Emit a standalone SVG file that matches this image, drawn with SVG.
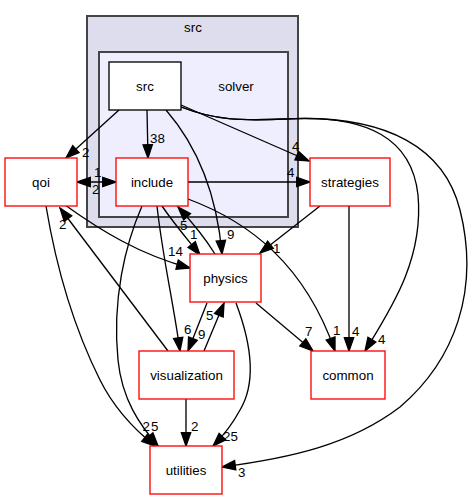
<svg xmlns="http://www.w3.org/2000/svg" width="474" height="500" viewBox="0 0 474 500">
<style>
text{font-family:"Liberation Sans",Arial,Helvetica,sans-serif;font-size:13.33px;fill:#000}
.nl{text-anchor:middle}
.cl{text-anchor:middle}
.box{fill:#fff;stroke:#ff0000;stroke-width:1.33}
.sbox{fill:#fff;stroke:#000;stroke-width:1.33}
.e{fill:none;stroke:#000;stroke-width:1.33;marker-end:url(#ah)}
</style>
<defs>
<marker id="ah" markerUnits="userSpaceOnUse" markerWidth="16" markerHeight="12" refX="13.3" refY="4.67" orient="auto-start-reverse" overflow="visible">
<path d="M0,0 L13.3,4.67 L0,9.33 z" fill="#000" stroke="#000" stroke-width="1.33"/>
</marker>
</defs>
<rect width="474" height="500" fill="#fff"/>
<g id="cluster_src">
<rect x="87" y="16" width="211" height="211" fill="#ddddee" stroke="#444" stroke-width="2"/>
<text class="cl" x="193" y="31.5">src</text>
</g>
<g id="cluster_solver">
<rect x="99" y="52" width="189" height="165" fill="#eeeeff" stroke="#444" stroke-width="2"/>
<text class="cl" x="236" y="90.5">solver</text>
</g>
<g id="connectors">
<path class="e" d="M119,110 L66,158"/>
<path class="e" d="M147,110 L148,158"/>
<path class="e" d="M166,110 C192,140 216,185 222,254"/>
<path class="e" d="M181,105 L309,161"/>
<path class="e" d="M181,107 C215,120 240,121 285,119 C370,114 412,140 418,195 C424,260 390,310 365,351"/>
<path class="e" d="M181,107 C215,120 240,121 285,119 C390,114 445,150 460,210 C480,290 455,360 400,407 C350,445 290,458 222,467"/>
<path class="e" style="marker-start:url(#ah)" d="M77,182 L116,182"/>
<path class="e" d="M188,182 L310,182"/>
<path class="e" d="M162,206 C175,225 188,240 200,255"/>
<path class="e" d="M215,254 C205,238 192,222 178,207"/>
<path class="e" d="M188,199 C250,222 305,265 335,351"/>
<path class="e" d="M157,206 C163,260 173,300 180,351"/>
<path class="e" d="M142,206 C125,245 112,300 118,360 C122,400 140,425 158,446"/>
<path class="e" d="M46,206 C55,260 70,320 100,380 C115,410 135,430 155,446"/>
<path class="e" d="M65,205 C100,230 140,255 190,268"/>
<path class="e" d="M168,351 L60,208"/>
<path class="e" d="M207,303 L188,351"/>
<path class="e" d="M204,351 L224,303"/>
<path class="e" d="M256,303 L313,351"/>
<path class="e" d="M236,303 C250,340 258,380 240,410 C232,425 222,437 213,446"/>
<path class="e" d="M320,206 L260,253"/>
<path class="e" d="M349,206 L349,351"/>
<path class="e" d="M186,399 L186,446"/>
<text x="82" y="157">2</text>
<text x="150" y="143">38</text>
<text x="292" y="151">4</text>
<text x="287" y="177">4</text>
<text x="94" y="177">1</text>
<text x="92" y="194">2</text>
<text x="59" y="229">2</text>
<text x="180" y="230">5</text>
<text x="190" y="239">1</text>
<text x="227" y="239">9</text>
<text x="168" y="256">14</text>
<text x="273" y="253">1</text>
<text x="184" y="334">6</text>
<text x="198" y="339">9</text>
<text x="206" y="320">5</text>
<text x="305" y="336">7</text>
<text x="333" y="335">1</text>
<text x="352" y="336">4</text>
<text x="378" y="344">4</text>
<text x="191" y="431">2</text>
<text x="223" y="441">25</text>
<text x="238" y="477">3</text>
<text x="142.5" y="431">2</text>
<text x="151" y="431">5</text>
</g>
<g id="node_src">
<rect class="sbox" x="109" y="62" width="72" height="48"/>
<text class="nl" x="145" y="90.5">src</text>
</g>
<g id="node_include">
<rect class="box" x="116" y="158" width="72" height="48"/>
<text class="nl" x="152" y="186.5">include</text>
</g>
<g id="node_qoi">
<rect class="box" x="5" y="158" width="72" height="48"/>
<text class="nl" x="41" y="186.5">qoi</text>
</g>
<g id="node_strategies">
<rect class="box" x="310" y="158" width="80" height="48"/>
<text class="nl" x="350" y="186.5">strategies</text>
</g>
<g id="node_physics">
<rect class="box" x="190" y="254" width="71" height="48"/>
<text class="nl" x="225.5" y="282.5">physics</text>
</g>
<g id="node_visualization">
<rect class="box" x="139" y="351" width="95" height="48"/>
<text class="nl" x="186.5" y="379.5">visualization</text>
</g>
<g id="node_common">
<rect class="box" x="311" y="351" width="74" height="48"/>
<text class="nl" x="348" y="379.5">common</text>
</g>
<g id="node_utilities">
<rect class="box" x="150" y="446" width="72" height="48"/>
<text class="nl" x="186" y="474.5">utilities</text>
</g>
</svg>
